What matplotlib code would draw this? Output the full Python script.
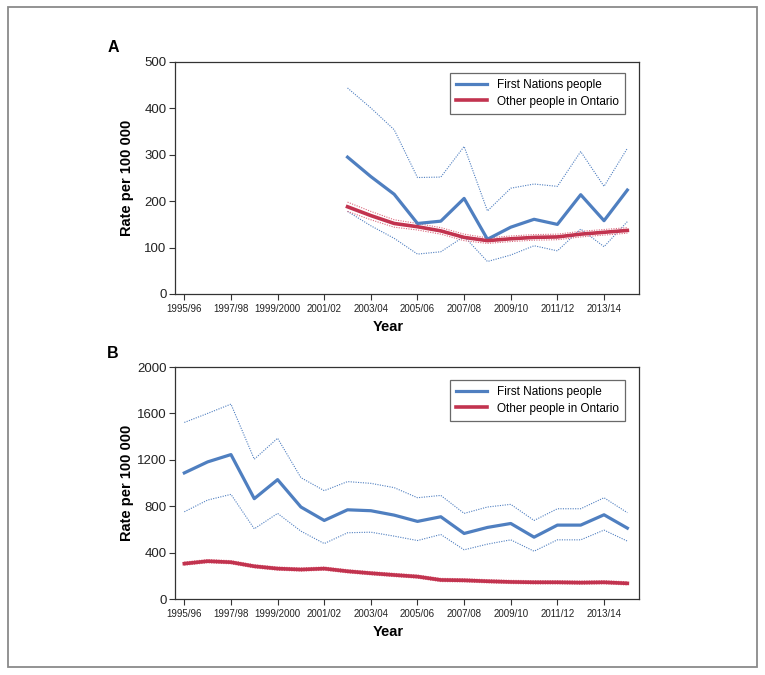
import matplotlib
matplotlib.use("Agg")
import matplotlib.pyplot as plt
from matplotlib.patches import Rectangle

plt.rcParams['font.family'] = ['Liberation Sans', 'DejaVu Sans']

years = ["1995/96", "1996/97", "1997/98", "1998/99", "1999/2000", "2000/01", "2001/02",
         "2002/03", "2003/04", "2004/05", "2005/06", "2006/07", "2007/08", "2008/09",
         "2009/10", "2010/11", "2011/12", "2012/13", "2013/14", "2014/15"]
tick_labels = ["1995/96", "1997/98", "1999/2000", "2001/02", "2003/04",
               "2005/06", "2007/08", "2009/10", "2011/12", "2013/14"]

# Panel A (from 2002/03)
a_start = 7
a_fn = [295, 253, 215, 152, 157, 206, 118, 144, 161, 150, 214, 158, 224]
a_fn_hi = [444, 401, 354, 251, 252, 318, 179, 228, 237, 232, 307, 232, 314]
a_fn_lo = [178, 147, 120, 86, 91, 124, 70, 84, 104, 93, 140, 102, 156]
a_ot = [188, 169, 152, 145, 136, 122, 115, 119, 122, 123, 129, 133, 137]
a_ot_hi = [198, 178, 160, 152, 143, 129, 121, 125, 128, 129, 135, 139, 143]
a_ot_lo = [178, 160, 144, 138, 129, 115, 109, 113, 116, 117, 123, 127, 131]

# Panel B (from 1995/96)
b_fn = [1087, 1182, 1245, 865, 1029, 793, 677, 769, 761, 723, 669, 709, 565, 617,
        651, 533, 637, 637, 726, 611]
b_fn_hi = [1522, 1600, 1680, 1205, 1386, 1046, 934, 1012, 997, 960, 873, 893, 738, 793,
           816, 677, 778, 778, 873, 744]
b_fn_lo = [752, 853, 902, 605, 738, 585, 478, 571, 576, 542, 504, 556, 424, 473,
           510, 412, 510, 510, 594, 499]
b_ot = [305, 326, 317, 282, 262, 254, 262, 239, 222, 207, 193, 164, 161, 153,
        147, 144, 144, 141, 144, 135]
b_ot_hi = [v + 14 for v in b_ot]
b_ot_lo = [v - 14 for v in b_ot]

BLUE = "#4f7fc0"
RED = "#c2334f"
RED_LIGHT = "#d9687c"

fig = plt.figure(figsize=(7.65, 6.75), dpi=100)
fig.patches.append(Rectangle((8 / 765, 1 - 667 / 675), 749 / 765, 660 / 675,
                             transform=fig.transFigure, fill=False,
                             edgecolor="#8a8a8a", linewidth=1.3))

axA = fig.add_axes([175 / 765, 1 - 294 / 675, 464 / 765, 232 / 675])
axB = fig.add_axes([175 / 765, 1 - 599 / 675, 464 / 765, 232 / 675])


def style(ax, ymax, ystep, legend_y):
    ax.set_xlim(-0.4, 19.5)
    ax.set_ylim(0, ymax)
    ax.set_yticks(range(0, ymax + 1, ystep))
    ax.set_xticks(range(0, 20, 2))
    ax.set_xticklabels(tick_labels, fontsize=7, color="#222222")
    ax.tick_params(axis='y', labelsize=9.5, labelcolor="#222222", length=4,
                   width=0.8, color="#333333", direction='out', pad=2)
    ax.tick_params(axis='x', length=4, width=0.8, color="#333333",
                   direction='out', pad=3)
    for s in ax.spines.values():
        s.set_color("#333333")
        s.set_linewidth(0.9)
    ax.set_ylabel("Rate per 100 000", fontsize=10.5, fontweight='bold')
    ax.yaxis.set_label_coords(-0.088, 0.5)
    ax.set_xlabel("Year", fontsize=10.5, fontweight='bold')
    ax.xaxis.set_label_coords(0.459, -0.110)
    leg = ax.legend(loc='upper right', bbox_to_anchor=(0.970, legend_y),
                    fontsize=8.5, frameon=True, fancybox=False, handlelength=2.6,
                    handletextpad=0.8, borderpad=0.55, labelspacing=0.35,
                    borderaxespad=0)
    leg.get_frame().set_edgecolor("#444444")
    leg.get_frame().set_linewidth(0.9)


xa = list(range(a_start, a_start + len(a_fn)))
axA.plot(xa, a_fn_hi, color=BLUE, lw=0.8, ls=(0, (1, 1.2)))
axA.plot(xa, a_fn_lo, color=BLUE, lw=0.8, ls=(0, (1, 1.2)))
axA.plot(xa, a_ot_hi, color=RED_LIGHT, lw=0.8, ls=(0, (1, 1.2)))
axA.plot(xa, a_ot_lo, color=RED_LIGHT, lw=0.8, ls=(0, (1, 1.2)))
axA.plot(xa, a_fn, color=BLUE, lw=2.3, label="First Nations people")
axA.plot(xa, a_ot, color=RED, lw=2.6, label="Other people in Ontario")
style(axA, 500, 100, 0.953)

xb = list(range(len(b_fn)))
axB.plot(xb, b_fn_hi, color=BLUE, lw=0.8, ls=(0, (1, 1.2)))
axB.plot(xb, b_fn_lo, color=BLUE, lw=0.8, ls=(0, (1, 1.2)))
axB.plot(xb, b_ot_hi, color=RED_LIGHT, lw=0.8, ls=(0, (1, 1.2)))
axB.plot(xb, b_ot_lo, color=RED_LIGHT, lw=0.8, ls=(0, (1, 1.2)))
axB.plot(xb, b_fn, color=BLUE, lw=2.3, label="First Nations people")
axB.plot(xb, b_ot, color=RED, lw=2.6, label="Other people in Ontario")
style(axB, 2000, 400, 0.944)

fig.text(113 / 765, 1 - 47 / 675, "A", fontsize=11.5, fontweight='bold',
         ha='center', va='center')
fig.text(113 / 765, 1 - 353 / 675, "B", fontsize=11.5, fontweight='bold',
         ha='center', va='center')

fig.savefig("out.png", dpi=100)
